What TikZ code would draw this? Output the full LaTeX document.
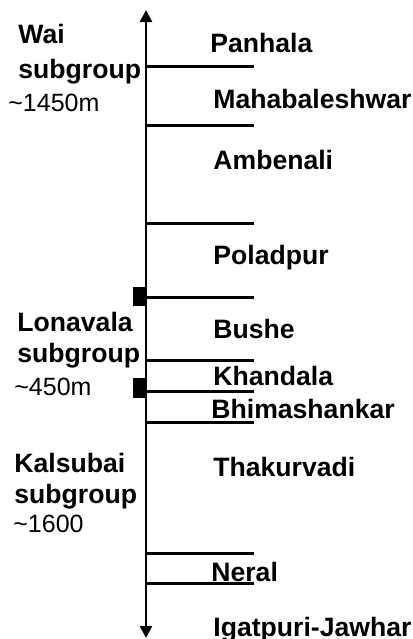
\documentclass[tikz,border=0pt]{standalone}
\usepackage{fontspec}
\setmainfont{Liberation Sans}
\usetikzlibrary{arrows.meta,positioning}

\begin{document}
\begin{tikzpicture}[
    x=0.5pt,y=-0.5pt,
    fm/.style={anchor=base west,inner sep=0pt,
      font=\fontsize{13.3}{15}\selectfont\bfseries},
    grp/.style={anchor=base west,inner sep=0pt,
      font=\fontsize{13.3}{15}\selectfont\bfseries},
    thk/.style={anchor=base west,inner sep=0pt,
      font=\fontsize{12.5}{15}\selectfont},
    ax/.style={{Triangle[width=6pt,length=6pt]}-{Triangle[width=6pt,length=6pt]},
      line width=1.25pt},
    bd/.style={line width=1.5pt},
    blk/.style={fill=black,inner sep=0pt,minimum width=6.5pt,minimum height=9.75pt},
  ]
    \useasboundingbox (0,0) rectangle (413,639);
    % time axis
    \coordinate (top) at (146,10);
    \coordinate (bot) at (146,638);
    \draw[ax](bot)--(top);
    % formation boundaries
    \foreach \i/\y in {1/66,2/125,3/223,4/297,5/360,6/391,7/422,8/553,9/583}{
      \coordinate (s\i) at (147,\y);
      \coordinate (e\i) at (254,\y);
      \draw[bd](s\i)--(e\i);
    }
    % subgroup boundaries
    \node[blk](k1) at (139.5,296.5) {};
    \node[blk](k2) at (139.5,388) {};
    % formations
    \node[fm](pan) at (210,52) {Panhala};
    \node[fm](mah) at (213,108) {Mahabaleshwar};
    \node[fm](amb) at (213,169) {Ambenali};
    \node[fm](pol) at (213,264) {Poladpur};
    \node[fm](bus) at (213,338) {Bushe};
    \node[fm](kha) at (213,385) {Khandala};
    \node[fm](bhi) at (211,418) {Bhimashankar};
    \node[fm](tha) at (213,476) {Thakurvadi};
    \node[fm](ner) at (211,581) {Neral};
    \node[fm](igj) at (213,636) {Igatpuri-Jawhar};
    % subgroups
    \node[grp](wai) at (18,43) {Wai};
    \node[grp](wais) at (18,78) {subgroup};
    \node[thk](wait) at (8,111) {\textasciitilde1450m};
    \node[grp](lon) at (17,331) {Lonavala};
    \node[grp](lons) at (17,362) {subgroup};
    \node[thk](lont) at (14,395) {\textasciitilde450m};
    \node[grp](kal) at (14,472) {Kalsubai};
    \node[grp](kals) at (14,503) {subgroup};
    \node[thk](kalt) at (13,532) {\textasciitilde1600};
  \end{tikzpicture}
\end{document}
